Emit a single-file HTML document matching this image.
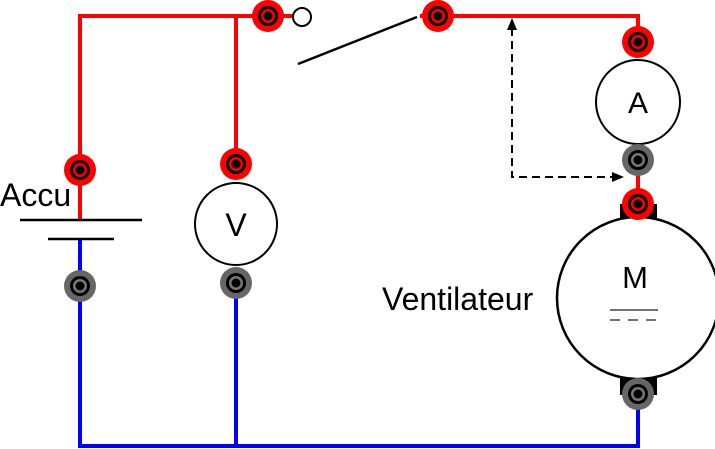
<!DOCTYPE html>
<html><head><meta charset="utf-8"><style>html,body{margin:0;padding:0;background:#fff}svg{display:block}</style></head>
<body>
<svg width="715" height="449" viewBox="0 0 715 449" xmlns="http://www.w3.org/2000/svg" font-family="Liberation Sans, sans-serif">
<defs>
<g id="rt"><circle r="16" fill="#f00"/><circle r="10" fill="#000"/><circle r="7" fill="#f00"/><circle r="4.5" fill="#000"/></g>
<g id="gt"><circle r="16" fill="#666"/><circle r="10" fill="#000"/><circle r="7" fill="#777"/><circle r="4.5" fill="#000"/></g>
</defs>
<g fill="none" stroke-width="4">
<path d="M80 220 V16 H300" stroke="#f00"/>
<path d="M236 16 V150" stroke="#f00"/>
<path d="M420 16 H638 V40" stroke="#f00"/>
<path d="M638 170 V195" stroke="#f00"/>
<path d="M80 239 V446 H638 V400" stroke="#00f"/>
<path d="M236 290 V446" stroke="#00f"/>
</g>
<line x1="20" y1="220" x2="142" y2="220" stroke="#000" stroke-width="2.5"/>
<line x1="48" y1="239" x2="114" y2="239" stroke="#000" stroke-width="2.5"/>
<text x="0" y="206" font-size="32">Accu</text>
<circle cx="302" cy="17" r="9" fill="#fff" stroke="#000" stroke-width="2"/>
<line x1="298" y1="64" x2="417" y2="17" stroke="#000" stroke-width="2.5"/>
<circle cx="236" cy="224" r="41" fill="#fff" stroke="#000" stroke-width="2"/>
<text x="236" y="236" font-size="32" text-anchor="middle">V</text>
<circle cx="638" cy="102" r="42" fill="#fff" stroke="#000" stroke-width="2"/>
<text x="638" y="113" font-size="30" text-anchor="middle">A</text>
<rect x="620" y="204" width="37" height="18" fill="#000"/>
<rect x="620" y="374" width="37" height="21" fill="#000"/>
<circle cx="638" cy="298" r="81" fill="#fff" stroke="#000" stroke-width="2.5"/>
<text x="635" y="288" font-size="31" text-anchor="middle">M</text>
<line x1="610" y1="310" x2="658" y2="310" stroke="#444" stroke-width="1.5"/>
<line x1="610" y1="320" x2="658" y2="320" stroke="#444" stroke-width="1.5" stroke-dasharray="10,8"/>
<text x="382" y="310" font-size="32">Ventilateur</text>
<path d="M512 28 V177 H614" fill="none" stroke="#000" stroke-width="2" stroke-dasharray="8,5"/>
<polygon points="512,18 507,30 517,30" fill="#000"/>
<polygon points="624,177 612,172 612,182" fill="#000"/>
<use href="#rt" x="80" y="170"/>
<use href="#gt" x="80" y="286"/>
<use href="#rt" x="236" y="164"/>
<use href="#gt" x="236" y="283"/>
<use href="#rt" x="268" y="16"/>
<use href="#rt" x="438" y="16"/>
<use href="#rt" x="638" y="42"/>
<use href="#gt" x="638" y="160"/>
<use href="#rt" x="638" y="204"/>
<use href="#gt" x="638" y="394"/>
</svg>
</body></html>
